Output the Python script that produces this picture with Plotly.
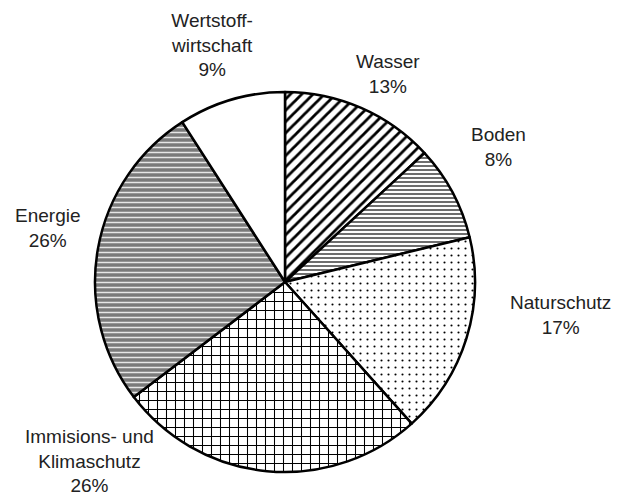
import plotly.graph_objects as go

categories = ["Wasser", "Boden", "Naturschutz", "Immisions- und<br>Klimaschutz", "Energie", "Wertstoff-<br>wirtschaft"]
values = [13, 8, 17, 26, 26, 9]
percent_labels = ["13%", "8%", "17%", "26%", "26%", "9%"]

shapes = ["/", "-", ".", "+", "-", ""]
fg = ["black", "#6e6e6e", "black", "black", "#e6e6e6", "black"]
bg = ["white", "white", "white", "white", "#7a7a7a", "white"]
psize = [8, 4, 7, 9, 5, 8]
solid = [0.35, 0.5, 0.07, 0.22, 0.3, 0.3]

# label anchor centres (paper pixels)
label_x = [388, 498, 560, 89, 48, 212]
label_y = [74, 147, 315, 461, 228, 45]

W, H = 620, 495
cx, cy, r = 285, 282, 190

fig = go.Figure(go.Pie(
    labels=categories, values=values, sort=False, direction="clockwise", rotation=0,
    textinfo="none", hoverinfo="label+percent",
    marker=dict(colors=bg, line=dict(color="black", width=2.5),
                pattern=dict(shape=shapes, fgcolor=fg, bgcolor=bg, size=psize,
                             solidity=solid, fillmode="replace")),
    domain=dict(x=[(cx - r) / W, (cx + r) / W], y=[(H - cy - r) / H, (H - cy + r) / H]),
    showlegend=False,
))

for c, p, x, y in zip(categories, percent_labels, label_x, label_y):
    fig.add_annotation(x=x / W, y=1 - y / H, xref="paper", yref="paper",
                       text=f"{c}<br>{p}", showarrow=False, xanchor="center", yanchor="middle",
                       align="center", font=dict(family="Liberation Sans, Arial", size=19, color="#222"))

fig.update_layout(width=W, height=H, margin=dict(l=0, r=0, t=0, b=0),
                  paper_bgcolor="white", plot_bgcolor="white")
fig.write_html("out.html")
